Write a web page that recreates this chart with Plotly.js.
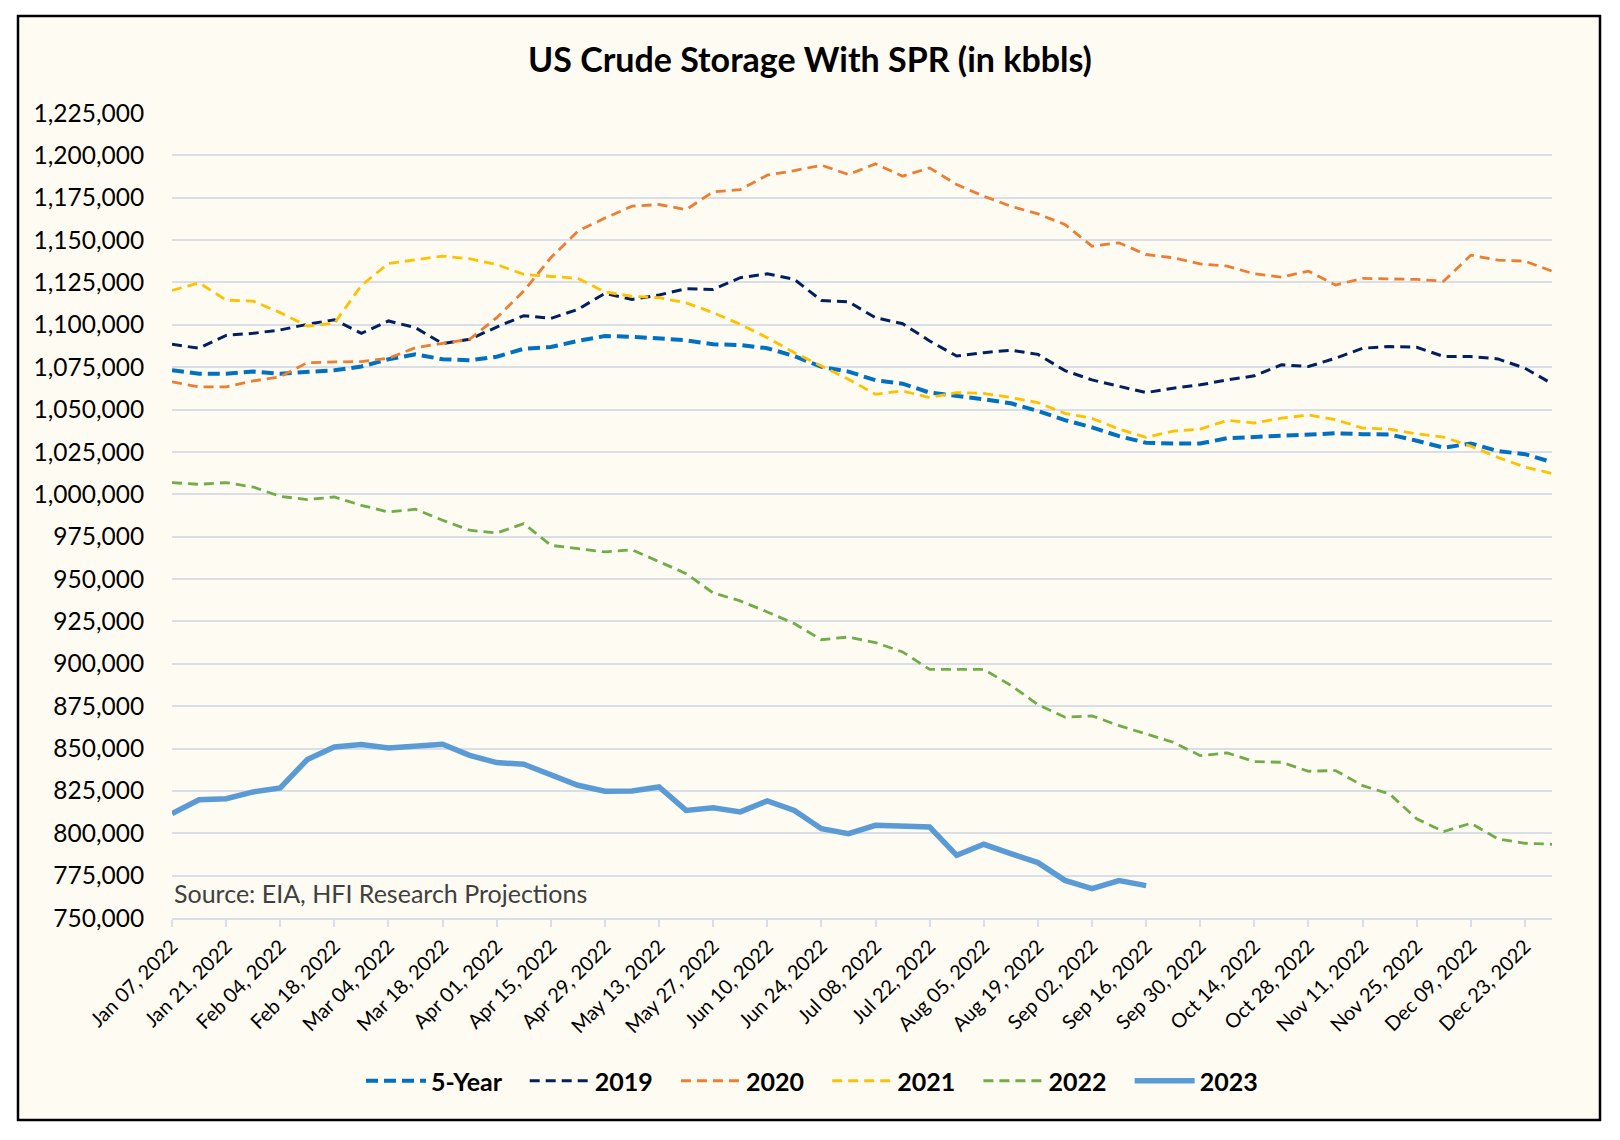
<!DOCTYPE html>
<html>
<head>
<meta charset="utf-8">
<script src="https://cdn.plot.ly/plotly-3.0.1.min.js"></script>
<style>html,body{margin:0;padding:0;background:#fff;}#chart{width:1620px;height:1140px;}</style>
</head>
<body>
<div id="chart"></div>
<script>
const weeks = ["Jan 07, 2022","Jan 14, 2022","Jan 21, 2022","Jan 28, 2022","Feb 04, 2022","Feb 11, 2022","Feb 18, 2022","Feb 25, 2022",
"Mar 04, 2022","Mar 11, 2022","Mar 18, 2022","Mar 25, 2022","Apr 01, 2022","Apr 08, 2022","Apr 15, 2022","Apr 22, 2022","Apr 29, 2022",
"May 06, 2022","May 13, 2022","May 20, 2022","May 27, 2022","Jun 03, 2022","Jun 10, 2022","Jun 17, 2022","Jun 24, 2022",
"Jul 01, 2022","Jul 08, 2022","Jul 15, 2022","Jul 22, 2022","Jul 29, 2022","Aug 05, 2022","Aug 12, 2022","Aug 19, 2022","Aug 26, 2022",
"Sep 02, 2022","Sep 09, 2022","Sep 16, 2022","Sep 23, 2022","Sep 30, 2022","Oct 07, 2022","Oct 14, 2022","Oct 21, 2022","Oct 28, 2022",
"Nov 04, 2022","Nov 11, 2022","Nov 18, 2022","Nov 25, 2022","Dec 02, 2022","Dec 09, 2022","Dec 16, 2022","Dec 23, 2022","Dec 30, 2022"];

const tickLabels = ["Jan 07, 2022","Jan 21, 2022","Feb 04, 2022","Feb 18, 2022","Mar 04, 2022","Mar 18, 2022","Apr 01, 2022","Apr 15, 2022",
"Apr 29, 2022","May 13, 2022","May 27, 2022","Jun 10, 2022","Jun 24, 2022","Jul 08, 2022","Jul 22, 2022","Aug 05, 2022","Aug 19, 2022",
"Sep 02, 2022","Sep 16, 2022","Sep 30, 2022","Oct 14, 2022","Oct 28, 2022","Nov 11, 2022","Nov 25, 2022","Dec 09, 2022","Dec 23, 2022"];

const fiveYear = [1073200,1071200,1071200,1072400,1071200,1072200,1073200,1075400,1079700,1082600,
1079700,1079100,1081200,1085900,1086900,1090500,1093400,1093000,1092000,1090900,
1088500,1088100,1086200,1081600,1075200,1072400,1067300,1065300,1060000,1058100,
1056100,1053700,1049200,1043800,1039500,1034300,1030400,1030000,1030000,1033100,
1033800,1034600,1035500,1036000,1035500,1035300,1031600,1027500,1030000,1025500,
1023700,1019000];

const y2019 = [1088500,1086200,1093800,1095000,1097000,1100300,1103000,1095000,1102300,1098300,
1088900,1091500,1098700,1105400,1103800,1109100,1118600,1115000,1117600,1121300,
1120900,1127800,1130100,1126800,1114400,1113600,1104200,1100700,1090500,1081600,
1083600,1085000,1082600,1073000,1067500,1063600,1060000,1062600,1064600,1067500,
1069900,1076400,1075400,1080300,1086200,1087200,1086800,1081300,1081300,1079900,
1074400,1065300];

const y2020 = [1066300,1063400,1063400,1066900,1069400,1077700,1078100,1078300,1080300,1086500,
1089100,1091500,1104200,1119900,1139600,1155300,1163000,1170000,1171000,1168000,
1178500,1179800,1188300,1191000,1194200,1188700,1195000,1187700,1192600,1182800,
1175900,1170000,1165500,1159200,1146400,1148400,1141500,1139600,1136000,1134600,
1130100,1128200,1131700,1123500,1127400,1127200,1126800,1125800,1141100,1138200,
1137600,1131700];

const y2021 = [1120300,1124800,1114600,1114000,1107200,1099300,1100900,1123300,1136200,1138600,
1140600,1139000,1135600,1129800,1128400,1127400,1119500,1116800,1116000,1113000,
1107200,1100300,1092400,1083600,1075700,1067900,1059000,1061000,1057100,1060000,
1059600,1057100,1054100,1047800,1044800,1038500,1033600,1037300,1038500,1043600,
1042100,1044900,1046800,1044100,1039100,1038500,1035700,1033800,1028400,1021800,
1016100,1012300];

const y2022 = [1006900,1005900,1006900,1004300,998800,996900,998400,993500,989600,991200,
984700,978800,977200,982700,969900,968000,966000,967300,960100,953200,
941800,937100,930600,923700,914200,915800,912500,907000,896700,896700,
896700,887300,875900,868500,869300,863500,858600,853700,845800,847400,
842300,841900,836600,837000,828100,823200,808500,801000,805900,796700,
794100,793500];

const y2023 = [811600,819800,820400,824400,826700,843500,850900,852300,850300,851500,
852500,846000,841700,840700,834200,828300,824800,825000,827300,813500,
815100,812600,819100,813500,802700,799800,804700,804300,803700,787000,
793500,788000,782700,772200,767300,772100,769100];

const seriesNames = ["5-Year","2019","2020","2021","2022","2023"];
const seriesData = [fiveYear, y2019, y2020, y2021, y2022, y2023];
const seriesColors = ["#0070C0","#002060","#ED7D31","#FFC000","#70AD47","#5B9BD5"];
const seriesWidths = [4, 3, 2.8, 2.8, 2.8, 5.5];
const seriesDash = ["12px,6px","10px,6px","10px,6px","10px,6px","10px,6px","solid"];

const FONT = "Lato, 'Open Sans', sans-serif";
const PAD = "\u00A0\u00A0\u00A0";

const traces = seriesNames.map((n, k) => ({
  type: "scatter",
  mode: "lines",
  name: k < seriesNames.length - 1 ? n + PAD : n,
  x: weeks.slice(0, seriesData[k].length),
  y: seriesData[k],
  line: {color: seriesColors[k], width: seriesWidths[k], dash: seriesDash[k]},
  hoverinfo: "x+y+name"
}));

const L = 172, R = 68, T = 113, B = 222;
const W = 1620, H = 1140;
const pw = W - L - R, ph = H - T - B;
const px = v => (v - L) / pw;
const py = v => (H - B - v) / ph;

const layout = {
  width: W, height: H,
  margin: {l: L, r: R, t: T, b: B, pad: 0, autoexpand: false},
  paper_bgcolor: "#FFFFFF",
  plot_bgcolor: "rgba(0,0,0,0)",
  font: {family: FONT, color: "#000000"},
  title: {
    text: "US Crude Storage With SPR (in kbbls)",
    font: {family: FONT, size: 34, weight: 700, color: "#000000"},
    x: 0.5, xref: "container", xanchor: "center",
    y: 1 - 60 / H, yref: "container", yanchor: "middle"
  },
  xaxis: {
    type: "category",
    range: [0, weeks.length - 1],
    categoryorder: "array",
    categoryarray: weeks,
    tickmode: "array",
    tickvals: tickLabels,
    ticktext: tickLabels,
    tickangle: -45,
    tickfont: {family: FONT, size: 20, color: "#000000"},
    ticks: "outside", ticklen: 7, tickwidth: 2, tickcolor: "#D9DEE7",
    showline: true, linecolor: "#D9DEE7", linewidth: 2,
    showgrid: false, zeroline: false, fixedrange: true
  },
  yaxis: {
    range: [750000, 1225000],
    tick0: 750000, dtick: 25000,
    tickformat: ",d",
    tickfont: {family: FONT, size: 24.5, color: "#000000"},
    ticks: "outside", ticklen: 22, tickcolor: "rgba(0,0,0,0)",
    showgrid: true, gridcolor: "#D9DEE7", gridwidth: 2,
    showline: false, zeroline: false, fixedrange: true
  },
  legend: {
    orientation: "h",
    x: px(812), xanchor: "center",
    y: py(1081), yanchor: "middle",
    font: {family: FONT, size: 25, weight: 700, color: "#000000"},
    itemwidth: 60,
    bgcolor: "rgba(0,0,0,0)",
    traceorder: "normal"
  },
  annotations: [{
    text: "Source: EIA, HFI Research Projections",
    xref: "paper", yref: "paper",
    x: 0, xanchor: "left",
    y: py(893), yanchor: "middle",
    showarrow: false,
    font: {family: FONT, size: 25, color: "#404040"}
  }],
  shapes: [{
    type: "rect", xref: "paper", yref: "paper", layer: "below",
    x0: px(18), x1: px(1600), y0: py(1120), y1: py(16),
    fillcolor: "#FEFBF3",
    line: {color: "#000000", width: 2.5}
  }],
  showlegend: true
};

Plotly.newPlot("chart", traces, layout, {displayModeBar: false, staticPlot: true});
</script>
</body>
</html>
